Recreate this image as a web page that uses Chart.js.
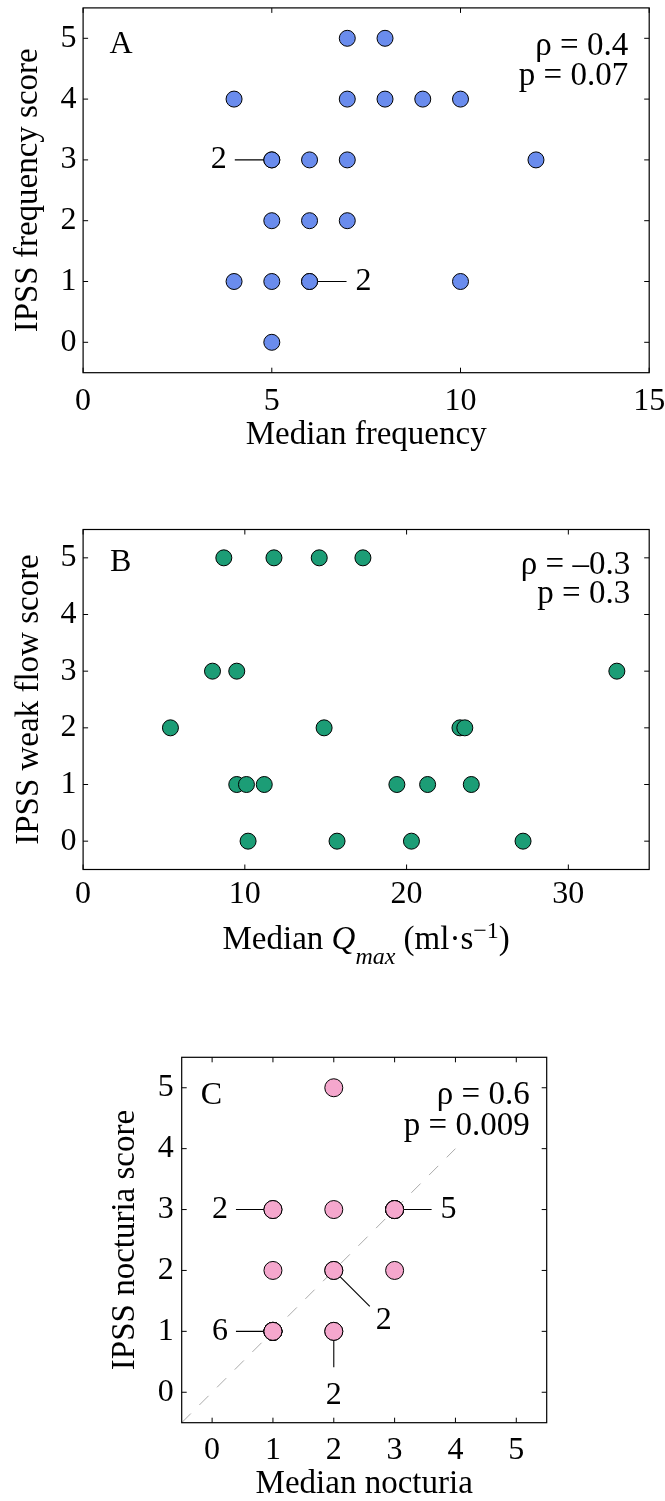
<!DOCTYPE html>
<html><head><meta charset="utf-8">
<script src="https://cdn.jsdelivr.net/npm/chart.js@4.4.1/dist/chart.umd.min.js"></script>
<style>
html,body{margin:0;padding:0;background:#fff;overflow:hidden;width:665px;height:1501px;position:relative;}
canvas{position:absolute;left:0;}
</style></head><body>
<canvas id="cA" width="700" height="465" style="top:0px"></canvas>
<canvas id="cB" width="700" height="485" style="top:480px"></canvas>
<canvas id="cC" width="700" height="461" style="top:1040px"></canvas>
<script>
// ---------- DATA ----------
// Panel A: median frequency vs IPSS frequency score
const freqX = [7, 8, 4, 7, 8, 9, 10, 5, 5, 6, 7, 12, 5, 6, 7, 4, 5, 6, 6, 10, 5];
const freqY = [5, 5, 4, 4, 4, 4, 4, 3, 3, 3, 3, 3, 2, 2, 2, 1, 1, 1, 1, 1, 0];
const freqTicksX = [0, 5, 10, 15];
// Panel B: median Qmax vs IPSS weak flow score
const qmaxX = [8.7, 11.8, 14.6, 17.3, 8.0, 9.5, 33.0, 5.4, 14.9, 23.3, 23.6, 9.5, 10.1, 11.2, 19.4, 21.3, 24.0, 10.2, 15.7, 20.3, 27.2];
const qmaxY = [5, 5, 5, 5, 3, 3, 3, 2, 2, 2, 2, 1, 1, 1, 1, 1, 1, 0, 0, 0, 0];
const qmaxTicksX = [0, 10, 20, 30];
// Panel C: median nocturia vs IPSS nocturia score
const noctX = [2, 1, 1, 2, 3, 3, 3, 3, 3, 1, 2, 2, 3, 1, 1, 1, 1, 1, 1, 2, 2];
const noctY = [5, 3, 3, 3, 3, 3, 3, 3, 3, 2, 2, 2, 2, 1, 1, 1, 1, 1, 1, 1, 1];
const noctTicksX = [0, 1, 2, 3, 4, 5];
const diagX = [-0.5, 4];
const diagY = [-0.5, 4];
const scoreTicks = [0, 1, 2, 3, 4, 5];
// Count labels (number of overlapping observations)
const freqCounts = [{x: 5, y: 3, n: '2', side: 'left'}, {x: 6, y: 1, n: '2', side: 'right'}];
const noctCounts = [
  {x: 1, y: 3, n: '2', side: 'left'}, {x: 3, y: 3, n: '5', side: 'right'},
  {x: 1, y: 1, n: '6', side: 'left'}, {x: 2, y: 2, n: '2', side: 'diag'},
  {x: 2, y: 1, n: '2', side: 'down'}];
const statsA = ['ρ = 0.4', 'p = 0.07'];
const statsB = ['ρ = –0.3', 'p = 0.3'];
const statsC = ['ρ = 0.6', 'p = 0.009'];

// ---------- DRAWING ----------
const SERIF = "'Liberation Serif', 'Times New Roman', Times, serif";
const CW = 700;

const sideOffsets = {
  left:  {lx: -37, ly: 0, tx: -53, ty: 0},
  right: {lx: 37, ly: 0, tx: 54, ty: 0},
  diag:  {lx: 36, ly: 36, tx: 50, ty: 50},
  down:  {lx: 0, ly: 36, tx: 0, ty: 64}
};

const decorPlugin = {
  id: 'panelDecor',
  beforeDatasetsDraw(chart, args, o) {
    const ctx = chart.ctx, xs = chart.scales.x, ys = chart.scales.y;
    ctx.save();
    ctx.strokeStyle = '#000'; ctx.lineWidth = 1.1;
    (o.counts || []).forEach(c => {
      const px = xs.getPixelForValue(c.x), py = ys.getPixelForValue(c.y);
      const off = sideOffsets[c.side];
      ctx.beginPath(); ctx.moveTo(px, py); ctx.lineTo(px + off.lx, py + off.ly); ctx.stroke();
    });
    ctx.restore();
  },
  afterDraw(chart, args, o) {
    const ctx = chart.ctx, xs = chart.scales.x, ys = chart.scales.y, a = chart.chartArea;
    ctx.save();
    // frame
    ctx.strokeStyle = '#000'; ctx.lineWidth = 1.2;
    ctx.strokeRect(a.left, a.top, a.right - a.left, a.bottom - a.top);
    // inward ticks on all sides
    ctx.lineWidth = 1; const tl = 5;
    ctx.beginPath();
    xs.ticks.forEach(t => {
      const p = xs.getPixelForValue(t.value);
      ctx.moveTo(p, a.bottom); ctx.lineTo(p, a.bottom - tl);
      ctx.moveTo(p, a.top); ctx.lineTo(p, a.top + tl);
    });
    ys.ticks.forEach(t => {
      const p = ys.getPixelForValue(t.value);
      ctx.moveTo(a.left, p); ctx.lineTo(a.left + tl, p);
      ctx.moveTo(a.right, p); ctx.lineTo(a.right - tl, p);
    });
    ctx.stroke();
    ctx.fillStyle = '#000';
    // panel letter
    ctx.font = `32px ${SERIF}`; ctx.textAlign = 'left'; ctx.textBaseline = 'alphabetic';
    ctx.fillText(o.letter, a.left + o.letterDx, a.top + o.letterDy);
    // stats
    ctx.font = `33px ${SERIF}`; ctx.textAlign = 'right';
    ctx.fillText(o.stats[0], a.right - o.statsDx, a.top + o.statsDy[0]);
    ctx.fillText(o.stats[1], a.right - o.statsDx, a.top + o.statsDy[1]);
    // count labels
    ctx.font = `32px ${SERIF}`; ctx.textAlign = 'center'; ctx.textBaseline = 'middle';
    (o.counts || []).forEach(c => {
      const px = xs.getPixelForValue(c.x), py = ys.getPixelForValue(c.y);
      const off = sideOffsets[c.side];
      ctx.fillText(c.n, px + off.tx, py + off.ty);
    });
    // rich x title
    if (o.richTitle) {
      ctx.textAlign = 'left'; ctx.textBaseline = 'alphabetic';
      let w = 0;
      o.richTitle.forEach(s => { ctx.font = s.f; w += ctx.measureText(s.t).width; });
      let x = (a.left + a.right) / 2 - w / 2;
      const base = a.bottom + o.richBaseline;
      o.richTitle.forEach(s => { ctx.font = s.f; ctx.fillText(s.t, x, base + s.dy); x += ctx.measureText(s.t).width; });
    }
    ctx.restore();
  }
};

function pts(xa, ya) { return xa.map((x, i) => ({x: x, y: ya[i]})); }

function makePanel(id, g) {
  const cv = document.getElementById(id);
  const H = cv.height;
  const tickFont = {family: SERIF, size: 32, lineHeight: 1};
  const titleFont = {family: SERIF, size: 33, lineHeight: 1};
  return new Chart(cv, {
    type: 'scatter',
    data: {datasets: g.datasets},
    options: {
      responsive: false, animation: false, devicePixelRatio: 1,
      events: [],
      layout: {autoPadding: false, padding: {left: 0, top: g.top, right: CW - g.right, bottom: 0}},
      plugins: {legend: {display: false}, tooltip: {enabled: false}, panelDecor: g.decor},
      scales: {
        x: {
          type: 'linear', position: 'bottom', min: g.xMin, max: g.xMax,
          grid: {display: false, drawTicks: false}, border: {display: false},
          ticks: {font: tickFont, color: '#000', padding: g.xTickPad, maxRotation: 0, autoSkip: false},
          title: {display: !!g.xTitle, text: g.xTitle || '', font: titleFont, color: '#000', padding: {top: 0, bottom: g.xTitlePad || 0}},
          afterBuildTicks: s => { s.ticks = g.xTicks.map(v => ({value: v})); },
          afterFit: s => { s.height = H - g.bottom; s.paddingLeft = 0; s.paddingRight = 0; s.paddingTop = 0; s.paddingBottom = 0; }
        },
        y: {
          type: 'linear', position: 'left', min: -0.5, max: 5.5,
          grid: {display: false, drawTicks: false}, border: {display: false},
          ticks: {font: tickFont, color: '#000', padding: g.yTickPad, autoSkip: false},
          title: {display: true, text: g.yTitle, font: titleFont, color: '#000', padding: {top: g.yTitlePad, bottom: 0}},
          afterBuildTicks: s => { s.ticks = scoreTicks.map(v => ({value: v})); },
          afterFit: s => { s.width = g.left; s.paddingLeft = 0; s.paddingRight = 0; s.paddingTop = 0; s.paddingBottom = 0; }
        }
      }
    },
    plugins: [decorPlugin]
  });
}

function markerSet(data, color, r) {
  return {data: data, backgroundColor: color, borderColor: '#000', borderWidth: 1,
          pointRadius: r, pointHoverRadius: r, clip: false, order: 0};
}

makePanel('cA', {
  left: 83.1, right: 649.2, top: 7.9, bottom: 372.7,
  xMin: 0, xMax: 15, xTicks: freqTicksX,
  xTitle: 'Median frequency', xTitlePad: 13, xTickPad: 13.3,
  yTitle: 'IPSS frequency score', yTitlePad: 12, yTickPad: 6.5,
  datasets: [markerSet(pts(freqX, freqY), '#6a8ced', 8)],
  decor: {letter: 'A', letterDx: 26.5, letterDy: 45.5, stats: statsA, statsDx: 21, statsDy: [47, 77], counts: freqCounts}
});

makePanel('cB', {
  left: 83.1, right: 649.2, top: 49.5, bottom: 389.5,
  xMin: 0, xMax: 35, xTicks: qmaxTicksX,
  xTitle: '', xTickPad: 9.5,
  yTitle: 'IPSS weak flow score', yTitlePad: 13, yTickPad: 6.5,
  datasets: [markerSet(pts(qmaxX, qmaxY), '#1c9d76', 8)],
  decor: {letter: 'B', letterDx: 27, letterDy: 41, stats: statsB, statsDx: 19, statsDy: [44, 73],
    richBaseline: 79,
    richTitle: [
      {t: 'Median ', f: `33px ${SERIF}`, dy: 0},
      {t: 'Q', f: `italic 33px ${SERIF}`, dy: 0},
      {t: 'max', f: `italic 24px ${SERIF}`, dy: 15},
      {t: ' (ml·s', f: `33px ${SERIF}`, dy: 0},
      {t: '\u22121', f: `24px ${SERIF}`, dy: -11},
      {t: ')', f: `33px ${SERIF}`, dy: 0}
    ]}
});

makePanel('cC', {
  left: 181.7, right: 546.7, top: 17.3, bottom: 382.7,
  xMin: -0.5, xMax: 5.5, xTicks: noctTicksX,
  xTitle: 'Median nocturia', xTitlePad: 0.6, xTickPad: 11.6,
  yTitle: 'IPSS nocturia score', yTitlePad: 109, yTickPad: 8,
  datasets: [
    markerSet(pts(noctX, noctY), '#f5a7cd', 9),
    {type: 'line', data: pts(diagX, diagY), borderColor: '#aaaaaa', borderWidth: 1, borderDash: [13, 12],
     pointRadius: 0, fill: false, showLine: true, clip: false, order: 1}
  ],
  decor: {letter: 'C', letterDx: 19, letterDy: 47, stats: statsC, statsDx: 17, statsDy: [47, 78], counts: noctCounts}
});
</script>
</body></html>
